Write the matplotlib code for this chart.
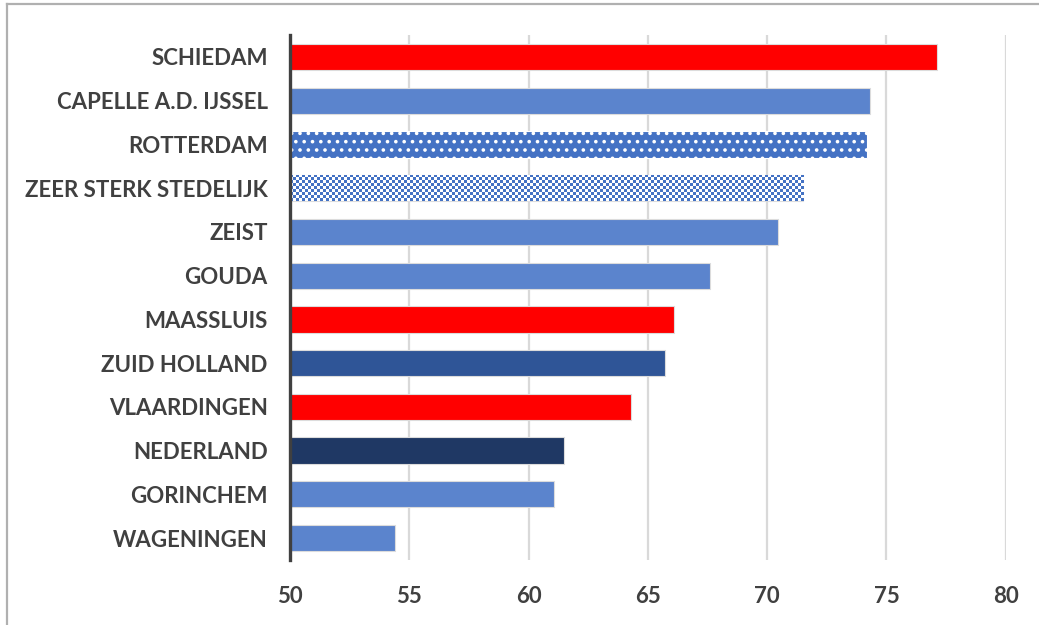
import numpy as np
import matplotlib
matplotlib.use("Agg")
import matplotlib.pyplot as plt
from matplotlib.lines import Line2D

# data (top to bottom)
places = ["SCHIEDAM", "CAPELLE A.D. IJSSEL", "ROTTERDAM", "ZEER STERK STEDELIJK",
          "ZEIST", "GOUDA", "MAASSLUIS", "ZUID HOLLAND", "VLAARDINGEN",
          "NEDERLAND", "GORINCHEM", "WAGENINGEN"]
values = [77.1, 74.3, 74.2, 71.5, 70.45, 67.6, 66.1, 65.7, 64.3, 61.5, 61.05, 54.4]
colors = ["#ff0000", "#5b84cd", "#4472c4", "#ffffff", "#5b84cd", "#5b84cd",
          "#ff0000", "#2f5597", "#ff0000", "#1f3864", "#5b84cd", "#5b84cd"]
styles = ["", "", "dots", "checker", "", "", "", "", "", "", "", ""]

x_min, x_max = 50, 80
ticks = [50, 55, 60, 65, 70, 75, 80]

plt.rcParams['font.family'] = ['Lato', 'DejaVu Sans']
plt.rcParams['hatch.linewidth'] = 1.4

fig = plt.figure(figsize=(10.39, 6.25), dpi=100)
ax = fig.add_axes([0.279, 0.104, 0.689, 0.84])

ypos = np.arange(len(places))
h = 0.6
for y, v, c, s in zip(ypos, values, colors, styles):
    if s == "dots":
        ax.barh(y, v - x_min, left=x_min, height=h, color=c, hatch="..",
                edgecolor="white", linewidth=0.8, zorder=3)
    elif s == "checker":
        bar = ax.barh(y, v - x_min, left=x_min, height=h, color="white",
                      edgecolor="#dcdcdc", linewidth=0.8, zorder=3)[0]
        ncol, nrow = 171, 9
        board = (np.add.outer(np.arange(nrow), np.arange(ncol)) % 2)
        cmap = matplotlib.colors.ListedColormap(["#4472c4", "#ffffff"])
        im = ax.imshow(board, cmap=cmap, aspect="auto", interpolation="nearest",
                       extent=[x_min, v, y + h / 2, y - h / 2], zorder=3.5)
        im.set_clip_path(bar)
    else:
        ax.barh(y, v - x_min, left=x_min, height=h, color=c,
                edgecolor="#dcdcdc", linewidth=0.8, zorder=3)

ax.set_xlim(x_min, x_max)
ax.set_ylim(len(places) - 0.5, -0.5)
ax.set_xticks(ticks)
ax.set_yticks(ypos)
ax.set_yticklabels(places)
ax.grid(axis="x", color="#d9d9d9", linewidth=1.6, zorder=0)
ax.set_axisbelow(True)
for side in ["top", "right", "bottom"]:
    ax.spines[side].set_visible(False)
ax.spines["left"].set_color("#404040")
ax.spines["left"].set_linewidth(2.4)
ax.spines["left"].set_zorder(5)
ax.tick_params(axis="both", length=0, labelsize=16, labelcolor="#404040")
ax.tick_params(axis="y", pad=16)
ax.tick_params(axis="x", pad=19)
for lab in ax.get_xticklabels() + ax.get_yticklabels():
    lab.set_fontweight("bold")

# outer frame lines
fig.add_artist(Line2D([0.007, 1.0], [0.994, 0.994], color="#b0b0b0", linewidth=1.6))
fig.add_artist(Line2D([0.007, 0.007], [0.0, 0.994], color="#b0b0b0", linewidth=1.6))

fig.savefig("out.png", dpi=100)
